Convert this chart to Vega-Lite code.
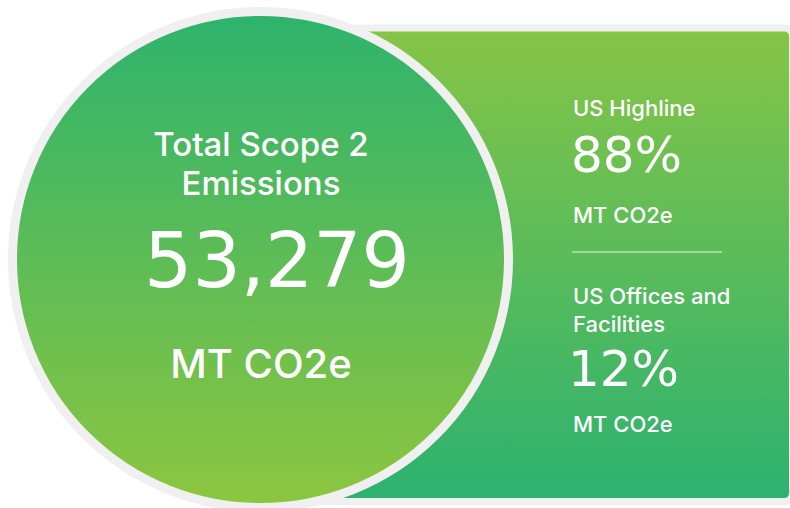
{
  "$schema": "https://vega.github.io/schema/vega-lite/v6.json",
  "width": 790,
  "height": 508,
  "padding": 0,
  "autosize": {"type": "none"},
  "background": "#ffffff",
  "config": {"view": {"stroke": null}},
  "datasets": {
    "panel": [{"x": 300, "x2": 792.5, "y": 28, "y2": 501.5}],
    "circle": [{"x": 260.5, "y": 259.5}],
    "divider": [{"x": 572, "x2": 722, "y": 252}],
    "texts": [
      {"text": "Total Scope 2", "x": 261, "y": 156, "kind": "title"},
      {"text": "Emissions", "x": 261, "y": 195, "kind": "title"},
      {"text": "53,279", "x": 277, "y": 287, "kind": "big"},
      {"text": "MT CO2e", "x": 261, "y": 378, "kind": "unit"},
      {"text": "US Highline", "x": 573, "y": 116, "kind": "label"},
      {"text": "88%", "x": 571, "y": 172, "kind": "pct"},
      {"text": "MT CO2e", "x": 573, "y": 223, "kind": "label"},
      {"text": "US Offices and", "x": 573, "y": 304, "kind": "label"},
      {"text": "Facilities", "x": 573, "y": 332, "kind": "label"},
      {"text": "12%", "x": 568, "y": 386, "kind": "pct"},
      {"text": "MT CO2e", "x": 573, "y": 432, "kind": "label"}
    ]
  },
  "layer": [
    {
      "data": {"name": "panel"},
      "mark": {
        "type": "rect",
        "cornerRadius": 8,
        "stroke": "#f0f0f0",
        "strokeWidth": 7,
        "fill": {
          "gradient": "linear", "x1": 0, "y1": 0, "x2": 0, "y2": 1,
          "stops": [{"offset": 0, "color": "#86c546"}, {"offset": 1, "color": "#2cb270"}]
        }
      },
      "encoding": {
        "x": {"field": "x", "type": "quantitative", "scale": {"domain": [0, 790], "nice": false, "zero": false}, "axis": null},
        "x2": {"field": "x2"},
        "y": {"field": "y", "type": "quantitative", "scale": {"domain": [0, 508], "nice": false, "zero": false, "reverse": true}, "axis": null},
        "y2": {"field": "y2"}
      }
    },
    {
      "data": {"name": "divider"},
      "mark": {"type": "rule", "color": "#ffffff", "strokeWidth": 1, "opacity": 0.85},
      "encoding": {
        "x": {"field": "x", "type": "quantitative"},
        "x2": {"field": "x2"},
        "y": {"field": "y", "type": "quantitative"}
      }
    },
    {
      "data": {"name": "circle"},
      "mark": {
        "type": "point",
        "shape": "circle",
        "filled": true,
        "opacity": 1,
        "size": 246016,
        "stroke": "#f0f0f0",
        "strokeWidth": 9,
        "fill": {
          "gradient": "linear", "x1": 0, "y1": 0, "x2": 0, "y2": 1,
          "stops": [{"offset": 0, "color": "#2db36d"}, {"offset": 1, "color": "#8dc63f"}]
        }
      },
      "encoding": {
        "x": {"field": "x", "type": "quantitative"},
        "y": {"field": "y", "type": "quantitative"}
      }
    },
    {
      "data": {"name": "texts"},
      "transform": [{"filter": "datum.kind === 'title'"}],
      "mark": {"type": "text", "font": "Inter", "fontWeight": 500, "fontSize": 33, "color": "#ffffff", "align": "center", "baseline": "alphabetic"},
      "encoding": {
        "x": {"field": "x", "type": "quantitative"},
        "y": {"field": "y", "type": "quantitative"},
        "text": {"field": "text"}
      }
    },
    {
      "data": {"name": "texts"},
      "transform": [{"filter": "datum.kind === 'big'"}],
      "mark": {"type": "text", "font": "DejaVu Sans", "fontSize": 76, "color": "#ffffff", "align": "center", "baseline": "alphabetic"},
      "encoding": {
        "x": {"field": "x", "type": "quantitative"},
        "y": {"field": "y", "type": "quantitative"},
        "text": {"field": "text"}
      }
    },
    {
      "data": {"name": "texts"},
      "transform": [{"filter": "datum.kind === 'unit'"}],
      "mark": {"type": "text", "font": "Inter", "fontWeight": 500, "fontSize": 40, "color": "#ffffff", "align": "center", "baseline": "alphabetic"},
      "encoding": {
        "x": {"field": "x", "type": "quantitative"},
        "y": {"field": "y", "type": "quantitative"},
        "text": {"field": "text"}
      }
    },
    {
      "data": {"name": "texts"},
      "transform": [{"filter": "datum.kind === 'label'"}],
      "mark": {"type": "text", "font": "Inter", "fontWeight": 500, "fontSize": 22, "color": "#ffffff", "align": "left", "baseline": "alphabetic"},
      "encoding": {
        "x": {"field": "x", "type": "quantitative"},
        "y": {"field": "y", "type": "quantitative"},
        "text": {"field": "text"}
      }
    },
    {
      "data": {"name": "texts"},
      "transform": [{"filter": "datum.kind === 'pct'"}],
      "mark": {"type": "text", "font": "DejaVu Sans", "fontSize": 50, "color": "#ffffff", "align": "left", "baseline": "alphabetic"},
      "encoding": {
        "x": {"field": "x", "type": "quantitative"},
        "y": {"field": "y", "type": "quantitative"},
        "text": {"field": "text"}
      }
    }
  ]
}
